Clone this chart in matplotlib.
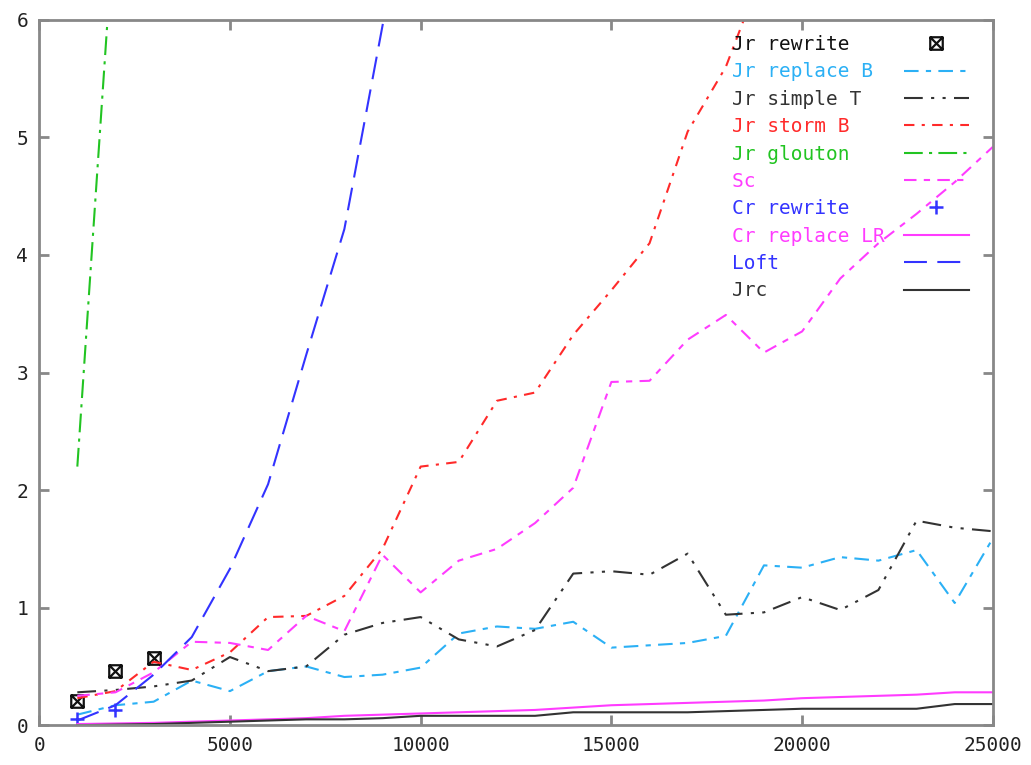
import numpy as np
import matplotlib
matplotlib.use("Agg")
import matplotlib.pyplot as plt
from matplotlib.path import Path

plt.rcParams["font.family"] = ["DejaVu Sans Mono"]

x = np.arange(1000, 26000, 1000)

jr_rewrite_x = [1000, 2000, 3000]
jr_rewrite = [0.21, 0.46, 0.57]

cr_rewrite_x = [1000, 2000]
cr_rewrite = [0.05, 0.13]

jr_replace_b = [0.09, 0.17, 0.20, 0.38, 0.29, 0.46, 0.50, 0.41, 0.43, 0.49,
                0.78, 0.84, 0.82, 0.88, 0.66, 0.68, 0.70, 0.76, 1.36, 1.34,
                1.43, 1.40, 1.49, 1.04, 1.59]

jr_simple_t = [0.28, 0.30, 0.33, 0.38, 0.58, 0.46, 0.50, 0.77, 0.87, 0.92,
               0.73, 0.67, 0.81, 1.29, 1.31, 1.28, 1.46, 0.94, 0.96, 1.09,
               0.98, 1.15, 1.74, 1.68, 1.65]

storm_x = x[:19]
jr_storm_b = [0.23, 0.29, 0.54, 0.47, 0.62, 0.92, 0.93, 1.10, 1.50, 2.20,
              2.24, 2.76, 2.83, 3.32, 3.70, 4.10, 5.05, 5.60, 6.45]

glouton_x = [1000, 2000]
jr_glouton = [2.2, 7.0]

sc = [0.25, 0.28, 0.45, 0.71, 0.70, 0.64, 0.93, 0.80, 1.45, 1.13,
      1.40, 1.50, 1.72, 2.02, 2.92, 2.93, 3.28, 3.49, 3.17, 3.35,
      3.80, 4.10, 4.35, 4.62, 4.92]

cr_replace_lr = [0.01, 0.015, 0.02, 0.03, 0.04, 0.05, 0.06, 0.08, 0.09, 0.10,
                 0.11, 0.12, 0.13, 0.15, 0.17, 0.18, 0.19, 0.20, 0.21, 0.23,
                 0.24, 0.25, 0.26, 0.28, 0.28]

loft_x = x[:10]
loft = [0.04, 0.17, 0.43, 0.75, 1.33, 2.05, 3.15, 4.22, 5.95, 7.8]

jrc = [0.0, 0.005, 0.01, 0.02, 0.03, 0.04, 0.05, 0.05, 0.06, 0.08,
       0.08, 0.08, 0.08, 0.11, 0.11, 0.11, 0.11, 0.12, 0.13, 0.14,
       0.14, 0.14, 0.14, 0.18, 0.18]

# boxed cross marker
boxx = Path([(-1, -1), (1, -1), (1, 1), (-1, 1), (-1, -1),
             (-1, -1), (1, 1), (-1, 1), (1, -1)],
            [Path.MOVETO, Path.LINETO, Path.LINETO, Path.LINETO, Path.CLOSEPOLY,
             Path.MOVETO, Path.LINETO, Path.MOVETO, Path.LINETO])

fig = plt.figure(figsize=(10.31, 7.65), dpi=100)
ax = fig.add_axes([0.038, 0.052, 0.925, 0.922])

lw = 1.5
names = ["Jr rewrite", "Jr replace B", "Jr simple T", "Jr storm B", "Jr glouton",
         "Sc", "Cr rewrite", "Cr replace LR", "Loft", "Jrc"]
w = max(len(n) for n in names)
lab = [n.ljust(w) for n in names]

ax.plot(jr_rewrite_x, jr_rewrite, ls="none", marker=boxx, ms=9, mew=1.6,
        mec="#111111", mfc="none", color="#111111", label=lab[0])
ax.plot(x, jr_replace_b, color="#2bb0f5", lw=lw, dashes=(7, 3.5, 2.5, 3.5), label=lab[1])
ax.plot(x, jr_simple_t, color="#333333", lw=lw, dashes=(9, 4, 1.5, 4, 1.5, 4), label=lab[2])
ax.plot(storm_x, jr_storm_b, color="#ff2a2a", lw=lw, dashes=(5, 3.5, 1.5, 3.5), label=lab[3])
ax.plot(glouton_x, jr_glouton, color="#22c422", lw=lw, dashes=(9, 3, 1.5, 3), label=lab[4])
ax.plot(x, sc, color="#ff3cff", lw=lw, dashes=(6, 3.5, 3, 3.5), label=lab[5])
ax.plot(cr_rewrite_x, cr_rewrite, ls="none", marker="+", ms=10, mew=1.8,
        color="#3333ff", label=lab[6])
ax.plot(x, cr_replace_lr, color="#ff3cff", lw=lw, label=lab[7])
ax.plot(loft_x, loft, color="#3333ff", lw=lw, dashes=(11, 5), label=lab[8])
ax.plot(x, jrc, color="#333333", lw=lw, label=lab[9])

ax.set_xlim(0, 25000)
ax.set_ylim(0, 6)
ax.set_xticks(np.arange(0, 25001, 5000))
ax.set_yticks(np.arange(0, 7, 1))

for s in ax.spines.values():
    s.set_color("#888888")
    s.set_linewidth(2)
ax.tick_params(direction="in", length=7, width=2, color="#888888",
               top=True, right=True, labelsize=14, labelcolor="#222222", pad=8)

leg = ax.legend(loc="upper right", bbox_to_anchor=(0.987, 0.995), frameon=False,
                markerfirst=False, labelcolor="linecolor", fontsize=14,
                handlelength=3.34, handletextpad=1.0, labelspacing=0.43,
                borderaxespad=0.2)

fig.savefig("out.png", dpi=100)
